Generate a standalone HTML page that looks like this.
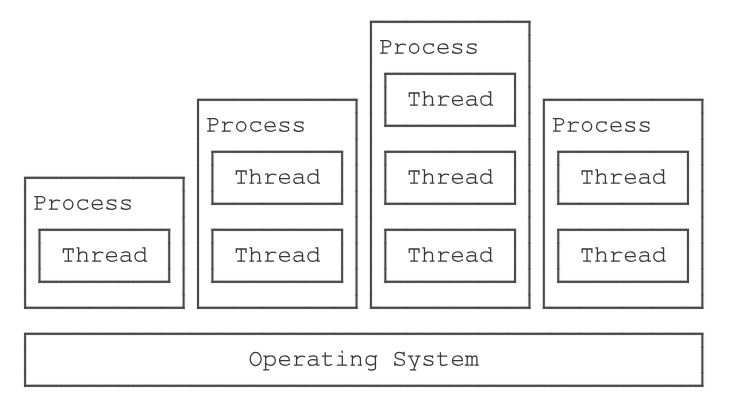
<!DOCTYPE html>
<html><head><meta charset="utf-8"><style>
html,body{margin:0;padding:0;background:#fff;width:736px;height:420px;overflow:hidden}
svg{display:block}
</style></head><body>
<svg width="736" height="420" viewBox="0 0 736 420">
<defs>
<path id="g79" d="M-5.5,-6.1A5.5,6.6 0 1 0 5.5,-6.1A5.5,6.6 0 1 0 -5.5,-6.1Z"/>
<path id="g80" d="M-4.6,-12.5H1.4A4.0,3.1 0 0 1 1.4,-6.3H-2.5M-2.5,-12.5V0M-4.6,0H1.7"/>
<path id="g83" d="M4.3,-12.6V-9.6M4.3,-10.8C3.2,-12.2 1.8,-12.8 -0.2,-12.8C-3,-12.8 -4.6,-11.5 -4.6,-9.3C-4.6,-7.2 -3.1,-6.5 -0.2,-6C3,-5.5 4.7,-4.7 4.7,-2.6C4.7,-0.6 3,0.3 0,0.3C-2.2,0.3 -3.9,-0.5 -4.9,-1.6M-4.9,0.2V-3.3"/>
<path id="g84" d="M-4.9,-8.8V-12.1H4.8V-8.8M0,-12.1V0M-3.4,0H3.2"/>
<path id="g97" d="M-4 -8.4C-3 -8.98 -1.5 -9.26 0.3 -9.26C2.5 -9.26 3.7 -8.31 3.7 -6.4V0H5.6M3.7 -5.06C2.3 -5.44 1 -5.54 -0.3 -5.54C-3.2 -5.54 -5 -4.39 -5 -2.48C-5 -0.76 -3.7 0.3 -1.6 0.3C0.5 0.3 2.3 -0.48 3.7 -1.72"/>
<path id="g99" d="M4.6,-6.9V-8.9M4.6,-8.1C3.5,-9 2.1,-9.3 0.4,-9.3C-2.8,-9.3 -4.9,-7.3 -4.9,-4.6C-4.9,-1.8 -2.7,0.2 0.5,0.2C2.2,0.2 3.8,-0.3 5.1,-1.3"/>
<path id="g100" d="M2.6 -13.3H4.4V0H6M4.4 -7.16C3.3 -8.59 1.8 -9.26 -0.2 -9.26C-3.3 -9.26 -5.4 -7.26 -5.4 -4.49C-5.4 -1.72 -3.3 0.3 -0.2 0.3C1.8 0.3 3.3 -0.48 4.4 -1.91"/>
<path id="g101" d="M-4.9,-4.5H4.9C4.9,-7.4 2.9,-9.3 0,-9.3C-3,-9.3 -4.9,-7.2 -4.9,-4.5C-4.9,-1.6 -2.8,0.2 0.4,0.2C2.2,0.2 3.8,-0.2 5.1,-1.1"/>
<path id="g103" d="M4.5,-9.2H5.6M4.5,-9.2V2.3C4.5,4.1 3.3,4.9 0.9,4.9C-0.5,4.9 -1.5,4.7 -2.3,4.3M4.5,-7.5C3.4,-8.7 1.9,-9.3 0,-9.3C-3,-9.3 -4.9,-7.4 -4.9,-4.8C-4.9,-2.1 -3,-0.1 0,-0.1C1.9,-0.1 3.4,-0.9 4.5,-2.3"/>
<path id="g104" d="M-5.6 -13.3H-4.1V0M-5.5 0H-2.2M-4.1 -6.49C-3 -8.4 -1.3 -9.17 0.5 -9.17C2.6 -9.17 3.9 -8.02 3.9 -6.11V0M1.8 0H5.2"/>
<path id="g105" d="M-3.3 -9.07H0.2V0M-4.6 0H4.4M0,-13.9V-12.8"/>
<path id="g109" d="M-6.2 -9.07H-4.6V0M-6.4 0H-3M-4.6 -6.88C-4 -8.5 -3 -9.17 -1.8 -9.17C-0.6 -9.17 0.2 -8.4 0.2 -6.68V0M0.2 -6.88C0.8 -8.5 1.8 -9.17 3 -9.17C4.3 -9.17 5.1 -8.4 5.1 -6.68V0M-1.2 0H1.2M3.4 0H6.4"/>
<path id="g110" d="M-5.3 -9.07H-4.1V0M-5.3 0H-2.2M-4.1 -6.49C-3 -8.4 -1.3 -9.17 0.5 -9.17C2.6 -9.17 3.9 -8.02 3.9 -6.11V0M1.8 0H4.8"/>
<path id="g111" d="M-4.6,-4.6A4.6,4.75 0 1 0 4.6,-4.6A4.6,4.75 0 1 0 -4.6,-4.6Z"/>
<path id="g112" d="M-6.1 -9.07H-4.4V4.8M-6.2 4.8H-1.3M-4.4 -7.16C-3.3 -8.59 -1.8 -9.26 0.2 -9.26C3.2 -9.26 5.2 -7.26 5.2 -4.49C5.2 -1.72 3.2 0.3 0.2 0.3C-1.8 0.3 -3.3 -0.48 -4.4 -1.91"/>
<path id="g114" d="M-4.4 -8.88H-2.3V0M-4.4 0H3.3M-2.3 -5.54C-1.2 -8.02 0.9 -9.07 3 -9.07C4.2 -9.07 5.1 -8.79 5.6 -8.31"/>
<path id="g115" d="M4,-9V-7.6M4,-8.4C3,-9.1 1.7,-9.3 0,-9.3C-2.6,-9.3 -4,-8.5 -4,-7C-4,-5.5 -2.6,-5 0,-4.6C2.8,-4.2 4.3,-3.6 4.3,-2.1C4.3,-0.6 2.8,0.2 0,0.2C-1.9,0.2 -3.4,-0.2 -4.5,-1M-4.5,-0.4V-2"/>
<path id="g116" d="M-2.5 -12.3V-1.72C-2.5 -0.29 -1.5 0.3 0.5 0.3C1.8 0.3 3 0 4 -0.57M-5.2 -9.07H3.6"/>
<path id="g121" d="M-5.8 -9.07H-1.6M1.8 -9.07H5.8M-4.2 -9.07L0 0M4.3 -9.07L-0.6 4.8M-3.6 4.8H1.4"/>
</defs>
<g fill="#000" fill-opacity="0.06">
<rect x="23.10" y="175.80" width="9.41" height="4"/>
<rect x="32.11" y="175.80" width="14.81" height="4"/>
<rect x="46.52" y="175.80" width="14.81" height="4"/>
<rect x="60.93" y="175.80" width="14.81" height="4"/>
<rect x="75.33" y="175.80" width="14.81" height="4"/>
<rect x="89.74" y="175.80" width="14.81" height="4"/>
<rect x="104.16" y="175.80" width="14.81" height="4"/>
<rect x="118.57" y="175.80" width="14.81" height="4"/>
<rect x="132.98" y="175.80" width="14.81" height="4"/>
<rect x="147.39" y="175.80" width="14.81" height="4"/>
<rect x="161.80" y="175.80" width="14.81" height="4"/>
<rect x="176.21" y="175.80" width="9.40" height="4"/>
<rect x="23.10" y="305.80" width="9.41" height="4"/>
<rect x="32.11" y="305.80" width="14.81" height="4"/>
<rect x="46.52" y="305.80" width="14.81" height="4"/>
<rect x="60.93" y="305.80" width="14.81" height="4"/>
<rect x="75.33" y="305.80" width="14.81" height="4"/>
<rect x="89.74" y="305.80" width="14.81" height="4"/>
<rect x="104.16" y="305.80" width="14.81" height="4"/>
<rect x="118.57" y="305.80" width="14.81" height="4"/>
<rect x="132.98" y="305.80" width="14.81" height="4"/>
<rect x="147.39" y="305.80" width="14.81" height="4"/>
<rect x="161.80" y="305.80" width="14.81" height="4"/>
<rect x="176.21" y="305.80" width="9.40" height="4"/>
<rect x="23.1" y="180.00" width="4" height="11.50"/>
<rect x="23.1" y="190.50" width="4" height="27.00"/>
<rect x="23.1" y="216.50" width="4" height="27.00"/>
<rect x="23.1" y="242.50" width="4" height="27.00"/>
<rect x="23.1" y="268.50" width="4" height="27.00"/>
<rect x="23.1" y="294.50" width="4" height="11.50"/>
<rect x="181.60999999999999" y="180.00" width="4" height="11.50"/>
<rect x="181.60999999999999" y="190.50" width="4" height="27.00"/>
<rect x="181.60999999999999" y="216.50" width="4" height="27.00"/>
<rect x="181.60999999999999" y="242.50" width="4" height="27.00"/>
<rect x="181.60999999999999" y="268.50" width="4" height="27.00"/>
<rect x="181.60999999999999" y="294.50" width="4" height="11.50"/>
<rect x="37.51" y="227.80" width="9.41" height="4"/>
<rect x="46.52" y="227.80" width="14.81" height="4"/>
<rect x="60.93" y="227.80" width="14.81" height="4"/>
<rect x="75.33" y="227.80" width="14.81" height="4"/>
<rect x="89.74" y="227.80" width="14.81" height="4"/>
<rect x="104.16" y="227.80" width="14.81" height="4"/>
<rect x="118.57" y="227.80" width="14.81" height="4"/>
<rect x="132.98" y="227.80" width="14.81" height="4"/>
<rect x="147.39" y="227.80" width="14.81" height="4"/>
<rect x="161.80" y="227.80" width="9.40" height="4"/>
<rect x="37.51" y="279.80" width="9.41" height="4"/>
<rect x="46.52" y="279.80" width="14.81" height="4"/>
<rect x="60.93" y="279.80" width="14.81" height="4"/>
<rect x="75.33" y="279.80" width="14.81" height="4"/>
<rect x="89.74" y="279.80" width="14.81" height="4"/>
<rect x="104.16" y="279.80" width="14.81" height="4"/>
<rect x="118.57" y="279.80" width="14.81" height="4"/>
<rect x="132.98" y="279.80" width="14.81" height="4"/>
<rect x="147.39" y="279.80" width="14.81" height="4"/>
<rect x="161.80" y="279.80" width="9.40" height="4"/>
<rect x="37.510000000000005" y="232.00" width="4" height="11.50"/>
<rect x="37.510000000000005" y="242.50" width="4" height="27.00"/>
<rect x="37.510000000000005" y="268.50" width="4" height="11.50"/>
<rect x="167.2" y="232.00" width="4" height="11.50"/>
<rect x="167.2" y="242.50" width="4" height="27.00"/>
<rect x="167.2" y="268.50" width="4" height="11.50"/>
<rect x="196.02" y="97.80" width="9.41" height="4"/>
<rect x="205.03" y="97.80" width="14.81" height="4"/>
<rect x="219.44" y="97.80" width="14.81" height="4"/>
<rect x="233.85" y="97.80" width="14.81" height="4"/>
<rect x="248.26" y="97.80" width="14.81" height="4"/>
<rect x="262.67" y="97.80" width="14.81" height="4"/>
<rect x="277.07" y="97.80" width="14.81" height="4"/>
<rect x="291.49" y="97.80" width="14.81" height="4"/>
<rect x="305.89" y="97.80" width="14.81" height="4"/>
<rect x="320.31" y="97.80" width="14.81" height="4"/>
<rect x="334.71" y="97.80" width="14.81" height="4"/>
<rect x="349.12" y="97.80" width="9.41" height="4"/>
<rect x="196.02" y="305.80" width="9.41" height="4"/>
<rect x="205.03" y="305.80" width="14.81" height="4"/>
<rect x="219.44" y="305.80" width="14.81" height="4"/>
<rect x="233.85" y="305.80" width="14.81" height="4"/>
<rect x="248.26" y="305.80" width="14.81" height="4"/>
<rect x="262.67" y="305.80" width="14.81" height="4"/>
<rect x="277.07" y="305.80" width="14.81" height="4"/>
<rect x="291.49" y="305.80" width="14.81" height="4"/>
<rect x="305.89" y="305.80" width="14.81" height="4"/>
<rect x="320.31" y="305.80" width="14.81" height="4"/>
<rect x="334.71" y="305.80" width="14.81" height="4"/>
<rect x="349.12" y="305.80" width="9.41" height="4"/>
<rect x="196.02" y="102.00" width="4" height="11.50"/>
<rect x="196.02" y="112.50" width="4" height="27.00"/>
<rect x="196.02" y="138.50" width="4" height="27.00"/>
<rect x="196.02" y="164.50" width="4" height="27.00"/>
<rect x="196.02" y="190.50" width="4" height="27.00"/>
<rect x="196.02" y="216.50" width="4" height="27.00"/>
<rect x="196.02" y="242.50" width="4" height="27.00"/>
<rect x="196.02" y="268.50" width="4" height="27.00"/>
<rect x="196.02" y="294.50" width="4" height="11.50"/>
<rect x="354.53000000000003" y="102.00" width="4" height="11.50"/>
<rect x="354.53000000000003" y="112.50" width="4" height="27.00"/>
<rect x="354.53000000000003" y="138.50" width="4" height="27.00"/>
<rect x="354.53000000000003" y="164.50" width="4" height="27.00"/>
<rect x="354.53000000000003" y="190.50" width="4" height="27.00"/>
<rect x="354.53000000000003" y="216.50" width="4" height="27.00"/>
<rect x="354.53000000000003" y="242.50" width="4" height="27.00"/>
<rect x="354.53000000000003" y="268.50" width="4" height="27.00"/>
<rect x="354.53000000000003" y="294.50" width="4" height="11.50"/>
<rect x="210.43" y="149.80" width="9.41" height="4"/>
<rect x="219.44" y="149.80" width="14.81" height="4"/>
<rect x="233.85" y="149.80" width="14.81" height="4"/>
<rect x="248.26" y="149.80" width="14.81" height="4"/>
<rect x="262.67" y="149.80" width="14.81" height="4"/>
<rect x="277.07" y="149.80" width="14.81" height="4"/>
<rect x="291.49" y="149.80" width="14.81" height="4"/>
<rect x="305.89" y="149.80" width="14.81" height="4"/>
<rect x="320.31" y="149.80" width="14.81" height="4"/>
<rect x="334.71" y="149.80" width="9.41" height="4"/>
<rect x="210.43" y="201.80" width="9.41" height="4"/>
<rect x="219.44" y="201.80" width="14.81" height="4"/>
<rect x="233.85" y="201.80" width="14.81" height="4"/>
<rect x="248.26" y="201.80" width="14.81" height="4"/>
<rect x="262.67" y="201.80" width="14.81" height="4"/>
<rect x="277.07" y="201.80" width="14.81" height="4"/>
<rect x="291.49" y="201.80" width="14.81" height="4"/>
<rect x="305.89" y="201.80" width="14.81" height="4"/>
<rect x="320.31" y="201.80" width="14.81" height="4"/>
<rect x="334.71" y="201.80" width="9.41" height="4"/>
<rect x="210.43" y="154.00" width="4" height="11.50"/>
<rect x="210.43" y="164.50" width="4" height="27.00"/>
<rect x="210.43" y="190.50" width="4" height="11.50"/>
<rect x="340.12" y="154.00" width="4" height="11.50"/>
<rect x="340.12" y="164.50" width="4" height="27.00"/>
<rect x="340.12" y="190.50" width="4" height="11.50"/>
<rect x="210.43" y="227.80" width="9.41" height="4"/>
<rect x="219.44" y="227.80" width="14.81" height="4"/>
<rect x="233.85" y="227.80" width="14.81" height="4"/>
<rect x="248.26" y="227.80" width="14.81" height="4"/>
<rect x="262.67" y="227.80" width="14.81" height="4"/>
<rect x="277.07" y="227.80" width="14.81" height="4"/>
<rect x="291.49" y="227.80" width="14.81" height="4"/>
<rect x="305.89" y="227.80" width="14.81" height="4"/>
<rect x="320.31" y="227.80" width="14.81" height="4"/>
<rect x="334.71" y="227.80" width="9.41" height="4"/>
<rect x="210.43" y="279.80" width="9.41" height="4"/>
<rect x="219.44" y="279.80" width="14.81" height="4"/>
<rect x="233.85" y="279.80" width="14.81" height="4"/>
<rect x="248.26" y="279.80" width="14.81" height="4"/>
<rect x="262.67" y="279.80" width="14.81" height="4"/>
<rect x="277.07" y="279.80" width="14.81" height="4"/>
<rect x="291.49" y="279.80" width="14.81" height="4"/>
<rect x="305.89" y="279.80" width="14.81" height="4"/>
<rect x="320.31" y="279.80" width="14.81" height="4"/>
<rect x="334.71" y="279.80" width="9.41" height="4"/>
<rect x="210.43" y="232.00" width="4" height="11.50"/>
<rect x="210.43" y="242.50" width="4" height="27.00"/>
<rect x="210.43" y="268.50" width="4" height="11.50"/>
<rect x="340.12" y="232.00" width="4" height="11.50"/>
<rect x="340.12" y="242.50" width="4" height="27.00"/>
<rect x="340.12" y="268.50" width="4" height="11.50"/>
<rect x="368.94" y="19.80" width="9.40" height="4"/>
<rect x="377.94" y="19.80" width="14.81" height="4"/>
<rect x="392.36" y="19.80" width="14.81" height="4"/>
<rect x="406.76" y="19.80" width="14.81" height="4"/>
<rect x="421.18" y="19.80" width="14.81" height="4"/>
<rect x="435.58" y="19.80" width="14.81" height="4"/>
<rect x="450.00" y="19.80" width="14.81" height="4"/>
<rect x="464.40" y="19.80" width="14.81" height="4"/>
<rect x="478.81" y="19.80" width="14.81" height="4"/>
<rect x="493.23" y="19.80" width="14.81" height="4"/>
<rect x="507.63" y="19.80" width="14.81" height="4"/>
<rect x="522.04" y="19.80" width="9.41" height="4"/>
<rect x="368.94" y="305.80" width="9.40" height="4"/>
<rect x="377.94" y="305.80" width="14.81" height="4"/>
<rect x="392.36" y="305.80" width="14.81" height="4"/>
<rect x="406.76" y="305.80" width="14.81" height="4"/>
<rect x="421.18" y="305.80" width="14.81" height="4"/>
<rect x="435.58" y="305.80" width="14.81" height="4"/>
<rect x="450.00" y="305.80" width="14.81" height="4"/>
<rect x="464.40" y="305.80" width="14.81" height="4"/>
<rect x="478.81" y="305.80" width="14.81" height="4"/>
<rect x="493.23" y="305.80" width="14.81" height="4"/>
<rect x="507.63" y="305.80" width="14.81" height="4"/>
<rect x="522.04" y="305.80" width="9.41" height="4"/>
<rect x="368.94000000000005" y="24.00" width="4" height="11.50"/>
<rect x="368.94000000000005" y="34.50" width="4" height="27.00"/>
<rect x="368.94000000000005" y="60.50" width="4" height="27.00"/>
<rect x="368.94000000000005" y="86.50" width="4" height="27.00"/>
<rect x="368.94000000000005" y="112.50" width="4" height="27.00"/>
<rect x="368.94000000000005" y="138.50" width="4" height="27.00"/>
<rect x="368.94000000000005" y="164.50" width="4" height="27.00"/>
<rect x="368.94000000000005" y="190.50" width="4" height="27.00"/>
<rect x="368.94000000000005" y="216.50" width="4" height="27.00"/>
<rect x="368.94000000000005" y="242.50" width="4" height="27.00"/>
<rect x="368.94000000000005" y="268.50" width="4" height="27.00"/>
<rect x="368.94000000000005" y="294.50" width="4" height="11.50"/>
<rect x="527.45" y="24.00" width="4" height="11.50"/>
<rect x="527.45" y="34.50" width="4" height="27.00"/>
<rect x="527.45" y="60.50" width="4" height="27.00"/>
<rect x="527.45" y="86.50" width="4" height="27.00"/>
<rect x="527.45" y="112.50" width="4" height="27.00"/>
<rect x="527.45" y="138.50" width="4" height="27.00"/>
<rect x="527.45" y="164.50" width="4" height="27.00"/>
<rect x="527.45" y="190.50" width="4" height="27.00"/>
<rect x="527.45" y="216.50" width="4" height="27.00"/>
<rect x="527.45" y="242.50" width="4" height="27.00"/>
<rect x="527.45" y="268.50" width="4" height="27.00"/>
<rect x="527.45" y="294.50" width="4" height="11.50"/>
<rect x="383.35" y="71.80" width="9.40" height="4"/>
<rect x="392.36" y="71.80" width="14.81" height="4"/>
<rect x="406.76" y="71.80" width="14.81" height="4"/>
<rect x="421.18" y="71.80" width="14.81" height="4"/>
<rect x="435.58" y="71.80" width="14.81" height="4"/>
<rect x="450.00" y="71.80" width="14.81" height="4"/>
<rect x="464.40" y="71.80" width="14.81" height="4"/>
<rect x="478.81" y="71.80" width="14.81" height="4"/>
<rect x="493.23" y="71.80" width="14.81" height="4"/>
<rect x="507.63" y="71.80" width="9.40" height="4"/>
<rect x="383.35" y="123.80" width="9.40" height="4"/>
<rect x="392.36" y="123.80" width="14.81" height="4"/>
<rect x="406.76" y="123.80" width="14.81" height="4"/>
<rect x="421.18" y="123.80" width="14.81" height="4"/>
<rect x="435.58" y="123.80" width="14.81" height="4"/>
<rect x="450.00" y="123.80" width="14.81" height="4"/>
<rect x="464.40" y="123.80" width="14.81" height="4"/>
<rect x="478.81" y="123.80" width="14.81" height="4"/>
<rect x="493.23" y="123.80" width="14.81" height="4"/>
<rect x="507.63" y="123.80" width="9.40" height="4"/>
<rect x="383.35" y="76.00" width="4" height="11.50"/>
<rect x="383.35" y="86.50" width="4" height="27.00"/>
<rect x="383.35" y="112.50" width="4" height="11.50"/>
<rect x="513.04" y="76.00" width="4" height="11.50"/>
<rect x="513.04" y="86.50" width="4" height="27.00"/>
<rect x="513.04" y="112.50" width="4" height="11.50"/>
<rect x="383.35" y="149.80" width="9.40" height="4"/>
<rect x="392.36" y="149.80" width="14.81" height="4"/>
<rect x="406.76" y="149.80" width="14.81" height="4"/>
<rect x="421.18" y="149.80" width="14.81" height="4"/>
<rect x="435.58" y="149.80" width="14.81" height="4"/>
<rect x="450.00" y="149.80" width="14.81" height="4"/>
<rect x="464.40" y="149.80" width="14.81" height="4"/>
<rect x="478.81" y="149.80" width="14.81" height="4"/>
<rect x="493.23" y="149.80" width="14.81" height="4"/>
<rect x="507.63" y="149.80" width="9.40" height="4"/>
<rect x="383.35" y="201.80" width="9.40" height="4"/>
<rect x="392.36" y="201.80" width="14.81" height="4"/>
<rect x="406.76" y="201.80" width="14.81" height="4"/>
<rect x="421.18" y="201.80" width="14.81" height="4"/>
<rect x="435.58" y="201.80" width="14.81" height="4"/>
<rect x="450.00" y="201.80" width="14.81" height="4"/>
<rect x="464.40" y="201.80" width="14.81" height="4"/>
<rect x="478.81" y="201.80" width="14.81" height="4"/>
<rect x="493.23" y="201.80" width="14.81" height="4"/>
<rect x="507.63" y="201.80" width="9.40" height="4"/>
<rect x="383.35" y="154.00" width="4" height="11.50"/>
<rect x="383.35" y="164.50" width="4" height="27.00"/>
<rect x="383.35" y="190.50" width="4" height="11.50"/>
<rect x="513.04" y="154.00" width="4" height="11.50"/>
<rect x="513.04" y="164.50" width="4" height="27.00"/>
<rect x="513.04" y="190.50" width="4" height="11.50"/>
<rect x="383.35" y="227.80" width="9.40" height="4"/>
<rect x="392.36" y="227.80" width="14.81" height="4"/>
<rect x="406.76" y="227.80" width="14.81" height="4"/>
<rect x="421.18" y="227.80" width="14.81" height="4"/>
<rect x="435.58" y="227.80" width="14.81" height="4"/>
<rect x="450.00" y="227.80" width="14.81" height="4"/>
<rect x="464.40" y="227.80" width="14.81" height="4"/>
<rect x="478.81" y="227.80" width="14.81" height="4"/>
<rect x="493.23" y="227.80" width="14.81" height="4"/>
<rect x="507.63" y="227.80" width="9.40" height="4"/>
<rect x="383.35" y="279.80" width="9.40" height="4"/>
<rect x="392.36" y="279.80" width="14.81" height="4"/>
<rect x="406.76" y="279.80" width="14.81" height="4"/>
<rect x="421.18" y="279.80" width="14.81" height="4"/>
<rect x="435.58" y="279.80" width="14.81" height="4"/>
<rect x="450.00" y="279.80" width="14.81" height="4"/>
<rect x="464.40" y="279.80" width="14.81" height="4"/>
<rect x="478.81" y="279.80" width="14.81" height="4"/>
<rect x="493.23" y="279.80" width="14.81" height="4"/>
<rect x="507.63" y="279.80" width="9.40" height="4"/>
<rect x="383.35" y="232.00" width="4" height="11.50"/>
<rect x="383.35" y="242.50" width="4" height="27.00"/>
<rect x="383.35" y="268.50" width="4" height="11.50"/>
<rect x="513.04" y="232.00" width="4" height="11.50"/>
<rect x="513.04" y="242.50" width="4" height="27.00"/>
<rect x="513.04" y="268.50" width="4" height="11.50"/>
<rect x="541.86" y="97.80" width="9.40" height="4"/>
<rect x="550.86" y="97.80" width="14.81" height="4"/>
<rect x="565.27" y="97.80" width="14.81" height="4"/>
<rect x="579.68" y="97.80" width="14.81" height="4"/>
<rect x="594.09" y="97.80" width="14.81" height="4"/>
<rect x="608.50" y="97.80" width="14.81" height="4"/>
<rect x="622.91" y="97.80" width="14.81" height="4"/>
<rect x="637.32" y="97.80" width="14.81" height="4"/>
<rect x="651.73" y="97.80" width="14.81" height="4"/>
<rect x="666.14" y="97.80" width="14.81" height="4"/>
<rect x="680.55" y="97.80" width="14.81" height="4"/>
<rect x="694.96" y="97.80" width="9.41" height="4"/>
<rect x="541.86" y="305.80" width="9.40" height="4"/>
<rect x="550.86" y="305.80" width="14.81" height="4"/>
<rect x="565.27" y="305.80" width="14.81" height="4"/>
<rect x="579.68" y="305.80" width="14.81" height="4"/>
<rect x="594.09" y="305.80" width="14.81" height="4"/>
<rect x="608.50" y="305.80" width="14.81" height="4"/>
<rect x="622.91" y="305.80" width="14.81" height="4"/>
<rect x="637.32" y="305.80" width="14.81" height="4"/>
<rect x="651.73" y="305.80" width="14.81" height="4"/>
<rect x="666.14" y="305.80" width="14.81" height="4"/>
<rect x="680.55" y="305.80" width="14.81" height="4"/>
<rect x="694.96" y="305.80" width="9.41" height="4"/>
<rect x="541.86" y="102.00" width="4" height="11.50"/>
<rect x="541.86" y="112.50" width="4" height="27.00"/>
<rect x="541.86" y="138.50" width="4" height="27.00"/>
<rect x="541.86" y="164.50" width="4" height="27.00"/>
<rect x="541.86" y="190.50" width="4" height="27.00"/>
<rect x="541.86" y="216.50" width="4" height="27.00"/>
<rect x="541.86" y="242.50" width="4" height="27.00"/>
<rect x="541.86" y="268.50" width="4" height="27.00"/>
<rect x="541.86" y="294.50" width="4" height="11.50"/>
<rect x="700.37" y="102.00" width="4" height="11.50"/>
<rect x="700.37" y="112.50" width="4" height="27.00"/>
<rect x="700.37" y="138.50" width="4" height="27.00"/>
<rect x="700.37" y="164.50" width="4" height="27.00"/>
<rect x="700.37" y="190.50" width="4" height="27.00"/>
<rect x="700.37" y="216.50" width="4" height="27.00"/>
<rect x="700.37" y="242.50" width="4" height="27.00"/>
<rect x="700.37" y="268.50" width="4" height="27.00"/>
<rect x="700.37" y="294.50" width="4" height="11.50"/>
<rect x="556.27" y="149.80" width="9.41" height="4"/>
<rect x="565.27" y="149.80" width="14.81" height="4"/>
<rect x="579.68" y="149.80" width="14.81" height="4"/>
<rect x="594.09" y="149.80" width="14.81" height="4"/>
<rect x="608.50" y="149.80" width="14.81" height="4"/>
<rect x="622.91" y="149.80" width="14.81" height="4"/>
<rect x="637.32" y="149.80" width="14.81" height="4"/>
<rect x="651.73" y="149.80" width="14.81" height="4"/>
<rect x="666.14" y="149.80" width="14.81" height="4"/>
<rect x="680.55" y="149.80" width="9.41" height="4"/>
<rect x="556.27" y="201.80" width="9.41" height="4"/>
<rect x="565.27" y="201.80" width="14.81" height="4"/>
<rect x="579.68" y="201.80" width="14.81" height="4"/>
<rect x="594.09" y="201.80" width="14.81" height="4"/>
<rect x="608.50" y="201.80" width="14.81" height="4"/>
<rect x="622.91" y="201.80" width="14.81" height="4"/>
<rect x="637.32" y="201.80" width="14.81" height="4"/>
<rect x="651.73" y="201.80" width="14.81" height="4"/>
<rect x="666.14" y="201.80" width="14.81" height="4"/>
<rect x="680.55" y="201.80" width="9.41" height="4"/>
<rect x="556.27" y="154.00" width="4" height="11.50"/>
<rect x="556.27" y="164.50" width="4" height="27.00"/>
<rect x="556.27" y="190.50" width="4" height="11.50"/>
<rect x="685.96" y="154.00" width="4" height="11.50"/>
<rect x="685.96" y="164.50" width="4" height="27.00"/>
<rect x="685.96" y="190.50" width="4" height="11.50"/>
<rect x="556.27" y="227.80" width="9.41" height="4"/>
<rect x="565.27" y="227.80" width="14.81" height="4"/>
<rect x="579.68" y="227.80" width="14.81" height="4"/>
<rect x="594.09" y="227.80" width="14.81" height="4"/>
<rect x="608.50" y="227.80" width="14.81" height="4"/>
<rect x="622.91" y="227.80" width="14.81" height="4"/>
<rect x="637.32" y="227.80" width="14.81" height="4"/>
<rect x="651.73" y="227.80" width="14.81" height="4"/>
<rect x="666.14" y="227.80" width="14.81" height="4"/>
<rect x="680.55" y="227.80" width="9.41" height="4"/>
<rect x="556.27" y="279.80" width="9.41" height="4"/>
<rect x="565.27" y="279.80" width="14.81" height="4"/>
<rect x="579.68" y="279.80" width="14.81" height="4"/>
<rect x="594.09" y="279.80" width="14.81" height="4"/>
<rect x="608.50" y="279.80" width="14.81" height="4"/>
<rect x="622.91" y="279.80" width="14.81" height="4"/>
<rect x="637.32" y="279.80" width="14.81" height="4"/>
<rect x="651.73" y="279.80" width="14.81" height="4"/>
<rect x="666.14" y="279.80" width="14.81" height="4"/>
<rect x="680.55" y="279.80" width="9.41" height="4"/>
<rect x="556.27" y="232.00" width="4" height="11.50"/>
<rect x="556.27" y="242.50" width="4" height="27.00"/>
<rect x="556.27" y="268.50" width="4" height="11.50"/>
<rect x="685.96" y="232.00" width="4" height="11.50"/>
<rect x="685.96" y="242.50" width="4" height="27.00"/>
<rect x="685.96" y="268.50" width="4" height="11.50"/>
<rect x="23.10" y="331.80" width="9.41" height="4"/>
<rect x="32.11" y="331.80" width="14.81" height="4"/>
<rect x="46.52" y="331.80" width="14.81" height="4"/>
<rect x="60.93" y="331.80" width="14.81" height="4"/>
<rect x="75.33" y="331.80" width="14.81" height="4"/>
<rect x="89.74" y="331.80" width="14.81" height="4"/>
<rect x="104.16" y="331.80" width="14.81" height="4"/>
<rect x="118.57" y="331.80" width="14.81" height="4"/>
<rect x="132.98" y="331.80" width="14.81" height="4"/>
<rect x="147.39" y="331.80" width="14.81" height="4"/>
<rect x="161.80" y="331.80" width="14.81" height="4"/>
<rect x="176.21" y="331.80" width="14.81" height="4"/>
<rect x="190.62" y="331.80" width="14.81" height="4"/>
<rect x="205.03" y="331.80" width="14.81" height="4"/>
<rect x="219.44" y="331.80" width="14.81" height="4"/>
<rect x="233.85" y="331.80" width="14.81" height="4"/>
<rect x="248.26" y="331.80" width="14.81" height="4"/>
<rect x="262.67" y="331.80" width="14.81" height="4"/>
<rect x="277.07" y="331.80" width="14.81" height="4"/>
<rect x="291.49" y="331.80" width="14.81" height="4"/>
<rect x="305.89" y="331.80" width="14.81" height="4"/>
<rect x="320.31" y="331.80" width="14.81" height="4"/>
<rect x="334.71" y="331.80" width="14.81" height="4"/>
<rect x="349.12" y="331.80" width="14.81" height="4"/>
<rect x="363.54" y="331.80" width="14.81" height="4"/>
<rect x="377.94" y="331.80" width="14.81" height="4"/>
<rect x="392.36" y="331.80" width="14.81" height="4"/>
<rect x="406.76" y="331.80" width="14.81" height="4"/>
<rect x="421.18" y="331.80" width="14.81" height="4"/>
<rect x="435.58" y="331.80" width="14.81" height="4"/>
<rect x="450.00" y="331.80" width="14.81" height="4"/>
<rect x="464.40" y="331.80" width="14.81" height="4"/>
<rect x="478.81" y="331.80" width="14.81" height="4"/>
<rect x="493.23" y="331.80" width="14.81" height="4"/>
<rect x="507.63" y="331.80" width="14.81" height="4"/>
<rect x="522.04" y="331.80" width="14.81" height="4"/>
<rect x="536.45" y="331.80" width="14.81" height="4"/>
<rect x="550.86" y="331.80" width="14.81" height="4"/>
<rect x="565.27" y="331.80" width="14.81" height="4"/>
<rect x="579.68" y="331.80" width="14.81" height="4"/>
<rect x="594.09" y="331.80" width="14.81" height="4"/>
<rect x="608.50" y="331.80" width="14.81" height="4"/>
<rect x="622.91" y="331.80" width="14.81" height="4"/>
<rect x="637.32" y="331.80" width="14.81" height="4"/>
<rect x="651.73" y="331.80" width="14.81" height="4"/>
<rect x="666.14" y="331.80" width="14.81" height="4"/>
<rect x="680.55" y="331.80" width="14.81" height="4"/>
<rect x="694.96" y="331.80" width="9.41" height="4"/>
<rect x="23.10" y="383.80" width="9.41" height="4"/>
<rect x="32.11" y="383.80" width="14.81" height="4"/>
<rect x="46.52" y="383.80" width="14.81" height="4"/>
<rect x="60.93" y="383.80" width="14.81" height="4"/>
<rect x="75.33" y="383.80" width="14.81" height="4"/>
<rect x="89.74" y="383.80" width="14.81" height="4"/>
<rect x="104.16" y="383.80" width="14.81" height="4"/>
<rect x="118.57" y="383.80" width="14.81" height="4"/>
<rect x="132.98" y="383.80" width="14.81" height="4"/>
<rect x="147.39" y="383.80" width="14.81" height="4"/>
<rect x="161.80" y="383.80" width="14.81" height="4"/>
<rect x="176.21" y="383.80" width="14.81" height="4"/>
<rect x="190.62" y="383.80" width="14.81" height="4"/>
<rect x="205.03" y="383.80" width="14.81" height="4"/>
<rect x="219.44" y="383.80" width="14.81" height="4"/>
<rect x="233.85" y="383.80" width="14.81" height="4"/>
<rect x="248.26" y="383.80" width="14.81" height="4"/>
<rect x="262.67" y="383.80" width="14.81" height="4"/>
<rect x="277.07" y="383.80" width="14.81" height="4"/>
<rect x="291.49" y="383.80" width="14.81" height="4"/>
<rect x="305.89" y="383.80" width="14.81" height="4"/>
<rect x="320.31" y="383.80" width="14.81" height="4"/>
<rect x="334.71" y="383.80" width="14.81" height="4"/>
<rect x="349.12" y="383.80" width="14.81" height="4"/>
<rect x="363.54" y="383.80" width="14.81" height="4"/>
<rect x="377.94" y="383.80" width="14.81" height="4"/>
<rect x="392.36" y="383.80" width="14.81" height="4"/>
<rect x="406.76" y="383.80" width="14.81" height="4"/>
<rect x="421.18" y="383.80" width="14.81" height="4"/>
<rect x="435.58" y="383.80" width="14.81" height="4"/>
<rect x="450.00" y="383.80" width="14.81" height="4"/>
<rect x="464.40" y="383.80" width="14.81" height="4"/>
<rect x="478.81" y="383.80" width="14.81" height="4"/>
<rect x="493.23" y="383.80" width="14.81" height="4"/>
<rect x="507.63" y="383.80" width="14.81" height="4"/>
<rect x="522.04" y="383.80" width="14.81" height="4"/>
<rect x="536.45" y="383.80" width="14.81" height="4"/>
<rect x="550.86" y="383.80" width="14.81" height="4"/>
<rect x="565.27" y="383.80" width="14.81" height="4"/>
<rect x="579.68" y="383.80" width="14.81" height="4"/>
<rect x="594.09" y="383.80" width="14.81" height="4"/>
<rect x="608.50" y="383.80" width="14.81" height="4"/>
<rect x="622.91" y="383.80" width="14.81" height="4"/>
<rect x="637.32" y="383.80" width="14.81" height="4"/>
<rect x="651.73" y="383.80" width="14.81" height="4"/>
<rect x="666.14" y="383.80" width="14.81" height="4"/>
<rect x="680.55" y="383.80" width="14.81" height="4"/>
<rect x="694.96" y="383.80" width="9.41" height="4"/>
<rect x="23.1" y="336.00" width="4" height="11.50"/>
<rect x="23.1" y="346.50" width="4" height="27.00"/>
<rect x="23.1" y="372.50" width="4" height="11.50"/>
<rect x="700.37" y="336.00" width="4" height="11.50"/>
<rect x="700.37" y="346.50" width="4" height="27.00"/>
<rect x="700.37" y="372.50" width="4" height="11.50"/>
</g>
<g fill="#484848">
<rect x="24.10" y="176.70" width="8.41" height="2.2"/>
<rect x="32.11" y="176.70" width="14.81" height="2.2"/>
<rect x="46.52" y="176.70" width="14.81" height="2.2"/>
<rect x="60.93" y="176.70" width="14.81" height="2.2"/>
<rect x="75.33" y="176.70" width="14.81" height="2.2"/>
<rect x="89.74" y="176.70" width="14.81" height="2.2"/>
<rect x="104.16" y="176.70" width="14.81" height="2.2"/>
<rect x="118.57" y="176.70" width="14.81" height="2.2"/>
<rect x="132.98" y="176.70" width="14.81" height="2.2"/>
<rect x="147.39" y="176.70" width="14.81" height="2.2"/>
<rect x="161.80" y="176.70" width="14.81" height="2.2"/>
<rect x="176.21" y="176.70" width="8.40" height="2.2"/>
<rect x="24.10" y="306.70" width="8.41" height="2.2"/>
<rect x="32.11" y="306.70" width="14.81" height="2.2"/>
<rect x="46.52" y="306.70" width="14.81" height="2.2"/>
<rect x="60.93" y="306.70" width="14.81" height="2.2"/>
<rect x="75.33" y="306.70" width="14.81" height="2.2"/>
<rect x="89.74" y="306.70" width="14.81" height="2.2"/>
<rect x="104.16" y="306.70" width="14.81" height="2.2"/>
<rect x="118.57" y="306.70" width="14.81" height="2.2"/>
<rect x="132.98" y="306.70" width="14.81" height="2.2"/>
<rect x="147.39" y="306.70" width="14.81" height="2.2"/>
<rect x="161.80" y="306.70" width="14.81" height="2.2"/>
<rect x="176.21" y="306.70" width="8.40" height="2.2"/>
<rect x="24.1" y="177.00" width="2" height="14.50"/>
<rect x="24.1" y="190.50" width="2" height="27.00"/>
<rect x="24.1" y="216.50" width="2" height="27.00"/>
<rect x="24.1" y="242.50" width="2" height="27.00"/>
<rect x="24.1" y="268.50" width="2" height="27.00"/>
<rect x="24.1" y="294.50" width="2" height="14.50"/>
<rect x="182.60999999999999" y="177.00" width="2" height="14.50"/>
<rect x="182.60999999999999" y="190.50" width="2" height="27.00"/>
<rect x="182.60999999999999" y="216.50" width="2" height="27.00"/>
<rect x="182.60999999999999" y="242.50" width="2" height="27.00"/>
<rect x="182.60999999999999" y="268.50" width="2" height="27.00"/>
<rect x="182.60999999999999" y="294.50" width="2" height="14.50"/>
<rect x="38.51" y="228.70" width="8.41" height="2.2"/>
<rect x="46.52" y="228.70" width="14.81" height="2.2"/>
<rect x="60.93" y="228.70" width="14.81" height="2.2"/>
<rect x="75.33" y="228.70" width="14.81" height="2.2"/>
<rect x="89.74" y="228.70" width="14.81" height="2.2"/>
<rect x="104.16" y="228.70" width="14.81" height="2.2"/>
<rect x="118.57" y="228.70" width="14.81" height="2.2"/>
<rect x="132.98" y="228.70" width="14.81" height="2.2"/>
<rect x="147.39" y="228.70" width="14.81" height="2.2"/>
<rect x="161.80" y="228.70" width="8.40" height="2.2"/>
<rect x="38.51" y="280.70" width="8.41" height="2.2"/>
<rect x="46.52" y="280.70" width="14.81" height="2.2"/>
<rect x="60.93" y="280.70" width="14.81" height="2.2"/>
<rect x="75.33" y="280.70" width="14.81" height="2.2"/>
<rect x="89.74" y="280.70" width="14.81" height="2.2"/>
<rect x="104.16" y="280.70" width="14.81" height="2.2"/>
<rect x="118.57" y="280.70" width="14.81" height="2.2"/>
<rect x="132.98" y="280.70" width="14.81" height="2.2"/>
<rect x="147.39" y="280.70" width="14.81" height="2.2"/>
<rect x="161.80" y="280.70" width="8.40" height="2.2"/>
<rect x="38.510000000000005" y="229.00" width="2" height="14.50"/>
<rect x="38.510000000000005" y="242.50" width="2" height="27.00"/>
<rect x="38.510000000000005" y="268.50" width="2" height="14.50"/>
<rect x="168.2" y="229.00" width="2" height="14.50"/>
<rect x="168.2" y="242.50" width="2" height="27.00"/>
<rect x="168.2" y="268.50" width="2" height="14.50"/>
<rect x="197.02" y="98.70" width="8.41" height="2.2"/>
<rect x="205.03" y="98.70" width="14.81" height="2.2"/>
<rect x="219.44" y="98.70" width="14.81" height="2.2"/>
<rect x="233.85" y="98.70" width="14.81" height="2.2"/>
<rect x="248.26" y="98.70" width="14.81" height="2.2"/>
<rect x="262.67" y="98.70" width="14.81" height="2.2"/>
<rect x="277.07" y="98.70" width="14.81" height="2.2"/>
<rect x="291.49" y="98.70" width="14.81" height="2.2"/>
<rect x="305.89" y="98.70" width="14.81" height="2.2"/>
<rect x="320.31" y="98.70" width="14.81" height="2.2"/>
<rect x="334.71" y="98.70" width="14.81" height="2.2"/>
<rect x="349.12" y="98.70" width="8.41" height="2.2"/>
<rect x="197.02" y="306.70" width="8.41" height="2.2"/>
<rect x="205.03" y="306.70" width="14.81" height="2.2"/>
<rect x="219.44" y="306.70" width="14.81" height="2.2"/>
<rect x="233.85" y="306.70" width="14.81" height="2.2"/>
<rect x="248.26" y="306.70" width="14.81" height="2.2"/>
<rect x="262.67" y="306.70" width="14.81" height="2.2"/>
<rect x="277.07" y="306.70" width="14.81" height="2.2"/>
<rect x="291.49" y="306.70" width="14.81" height="2.2"/>
<rect x="305.89" y="306.70" width="14.81" height="2.2"/>
<rect x="320.31" y="306.70" width="14.81" height="2.2"/>
<rect x="334.71" y="306.70" width="14.81" height="2.2"/>
<rect x="349.12" y="306.70" width="8.41" height="2.2"/>
<rect x="197.02" y="99.00" width="2" height="14.50"/>
<rect x="197.02" y="112.50" width="2" height="27.00"/>
<rect x="197.02" y="138.50" width="2" height="27.00"/>
<rect x="197.02" y="164.50" width="2" height="27.00"/>
<rect x="197.02" y="190.50" width="2" height="27.00"/>
<rect x="197.02" y="216.50" width="2" height="27.00"/>
<rect x="197.02" y="242.50" width="2" height="27.00"/>
<rect x="197.02" y="268.50" width="2" height="27.00"/>
<rect x="197.02" y="294.50" width="2" height="14.50"/>
<rect x="355.53000000000003" y="99.00" width="2" height="14.50"/>
<rect x="355.53000000000003" y="112.50" width="2" height="27.00"/>
<rect x="355.53000000000003" y="138.50" width="2" height="27.00"/>
<rect x="355.53000000000003" y="164.50" width="2" height="27.00"/>
<rect x="355.53000000000003" y="190.50" width="2" height="27.00"/>
<rect x="355.53000000000003" y="216.50" width="2" height="27.00"/>
<rect x="355.53000000000003" y="242.50" width="2" height="27.00"/>
<rect x="355.53000000000003" y="268.50" width="2" height="27.00"/>
<rect x="355.53000000000003" y="294.50" width="2" height="14.50"/>
<rect x="211.43" y="150.70" width="8.41" height="2.2"/>
<rect x="219.44" y="150.70" width="14.81" height="2.2"/>
<rect x="233.85" y="150.70" width="14.81" height="2.2"/>
<rect x="248.26" y="150.70" width="14.81" height="2.2"/>
<rect x="262.67" y="150.70" width="14.81" height="2.2"/>
<rect x="277.07" y="150.70" width="14.81" height="2.2"/>
<rect x="291.49" y="150.70" width="14.81" height="2.2"/>
<rect x="305.89" y="150.70" width="14.81" height="2.2"/>
<rect x="320.31" y="150.70" width="14.81" height="2.2"/>
<rect x="334.71" y="150.70" width="8.41" height="2.2"/>
<rect x="211.43" y="202.70" width="8.41" height="2.2"/>
<rect x="219.44" y="202.70" width="14.81" height="2.2"/>
<rect x="233.85" y="202.70" width="14.81" height="2.2"/>
<rect x="248.26" y="202.70" width="14.81" height="2.2"/>
<rect x="262.67" y="202.70" width="14.81" height="2.2"/>
<rect x="277.07" y="202.70" width="14.81" height="2.2"/>
<rect x="291.49" y="202.70" width="14.81" height="2.2"/>
<rect x="305.89" y="202.70" width="14.81" height="2.2"/>
<rect x="320.31" y="202.70" width="14.81" height="2.2"/>
<rect x="334.71" y="202.70" width="8.41" height="2.2"/>
<rect x="211.43" y="151.00" width="2" height="14.50"/>
<rect x="211.43" y="164.50" width="2" height="27.00"/>
<rect x="211.43" y="190.50" width="2" height="14.50"/>
<rect x="341.12" y="151.00" width="2" height="14.50"/>
<rect x="341.12" y="164.50" width="2" height="27.00"/>
<rect x="341.12" y="190.50" width="2" height="14.50"/>
<rect x="211.43" y="228.70" width="8.41" height="2.2"/>
<rect x="219.44" y="228.70" width="14.81" height="2.2"/>
<rect x="233.85" y="228.70" width="14.81" height="2.2"/>
<rect x="248.26" y="228.70" width="14.81" height="2.2"/>
<rect x="262.67" y="228.70" width="14.81" height="2.2"/>
<rect x="277.07" y="228.70" width="14.81" height="2.2"/>
<rect x="291.49" y="228.70" width="14.81" height="2.2"/>
<rect x="305.89" y="228.70" width="14.81" height="2.2"/>
<rect x="320.31" y="228.70" width="14.81" height="2.2"/>
<rect x="334.71" y="228.70" width="8.41" height="2.2"/>
<rect x="211.43" y="280.70" width="8.41" height="2.2"/>
<rect x="219.44" y="280.70" width="14.81" height="2.2"/>
<rect x="233.85" y="280.70" width="14.81" height="2.2"/>
<rect x="248.26" y="280.70" width="14.81" height="2.2"/>
<rect x="262.67" y="280.70" width="14.81" height="2.2"/>
<rect x="277.07" y="280.70" width="14.81" height="2.2"/>
<rect x="291.49" y="280.70" width="14.81" height="2.2"/>
<rect x="305.89" y="280.70" width="14.81" height="2.2"/>
<rect x="320.31" y="280.70" width="14.81" height="2.2"/>
<rect x="334.71" y="280.70" width="8.41" height="2.2"/>
<rect x="211.43" y="229.00" width="2" height="14.50"/>
<rect x="211.43" y="242.50" width="2" height="27.00"/>
<rect x="211.43" y="268.50" width="2" height="14.50"/>
<rect x="341.12" y="229.00" width="2" height="14.50"/>
<rect x="341.12" y="242.50" width="2" height="27.00"/>
<rect x="341.12" y="268.50" width="2" height="14.50"/>
<rect x="369.94" y="20.70" width="8.40" height="2.2"/>
<rect x="377.94" y="20.70" width="14.81" height="2.2"/>
<rect x="392.36" y="20.70" width="14.81" height="2.2"/>
<rect x="406.76" y="20.70" width="14.81" height="2.2"/>
<rect x="421.18" y="20.70" width="14.81" height="2.2"/>
<rect x="435.58" y="20.70" width="14.81" height="2.2"/>
<rect x="450.00" y="20.70" width="14.81" height="2.2"/>
<rect x="464.40" y="20.70" width="14.81" height="2.2"/>
<rect x="478.81" y="20.70" width="14.81" height="2.2"/>
<rect x="493.23" y="20.70" width="14.81" height="2.2"/>
<rect x="507.63" y="20.70" width="14.81" height="2.2"/>
<rect x="522.04" y="20.70" width="8.41" height="2.2"/>
<rect x="369.94" y="306.70" width="8.40" height="2.2"/>
<rect x="377.94" y="306.70" width="14.81" height="2.2"/>
<rect x="392.36" y="306.70" width="14.81" height="2.2"/>
<rect x="406.76" y="306.70" width="14.81" height="2.2"/>
<rect x="421.18" y="306.70" width="14.81" height="2.2"/>
<rect x="435.58" y="306.70" width="14.81" height="2.2"/>
<rect x="450.00" y="306.70" width="14.81" height="2.2"/>
<rect x="464.40" y="306.70" width="14.81" height="2.2"/>
<rect x="478.81" y="306.70" width="14.81" height="2.2"/>
<rect x="493.23" y="306.70" width="14.81" height="2.2"/>
<rect x="507.63" y="306.70" width="14.81" height="2.2"/>
<rect x="522.04" y="306.70" width="8.41" height="2.2"/>
<rect x="369.94000000000005" y="21.00" width="2" height="14.50"/>
<rect x="369.94000000000005" y="34.50" width="2" height="27.00"/>
<rect x="369.94000000000005" y="60.50" width="2" height="27.00"/>
<rect x="369.94000000000005" y="86.50" width="2" height="27.00"/>
<rect x="369.94000000000005" y="112.50" width="2" height="27.00"/>
<rect x="369.94000000000005" y="138.50" width="2" height="27.00"/>
<rect x="369.94000000000005" y="164.50" width="2" height="27.00"/>
<rect x="369.94000000000005" y="190.50" width="2" height="27.00"/>
<rect x="369.94000000000005" y="216.50" width="2" height="27.00"/>
<rect x="369.94000000000005" y="242.50" width="2" height="27.00"/>
<rect x="369.94000000000005" y="268.50" width="2" height="27.00"/>
<rect x="369.94000000000005" y="294.50" width="2" height="14.50"/>
<rect x="528.45" y="21.00" width="2" height="14.50"/>
<rect x="528.45" y="34.50" width="2" height="27.00"/>
<rect x="528.45" y="60.50" width="2" height="27.00"/>
<rect x="528.45" y="86.50" width="2" height="27.00"/>
<rect x="528.45" y="112.50" width="2" height="27.00"/>
<rect x="528.45" y="138.50" width="2" height="27.00"/>
<rect x="528.45" y="164.50" width="2" height="27.00"/>
<rect x="528.45" y="190.50" width="2" height="27.00"/>
<rect x="528.45" y="216.50" width="2" height="27.00"/>
<rect x="528.45" y="242.50" width="2" height="27.00"/>
<rect x="528.45" y="268.50" width="2" height="27.00"/>
<rect x="528.45" y="294.50" width="2" height="14.50"/>
<rect x="384.35" y="72.70" width="8.40" height="2.2"/>
<rect x="392.36" y="72.70" width="14.81" height="2.2"/>
<rect x="406.76" y="72.70" width="14.81" height="2.2"/>
<rect x="421.18" y="72.70" width="14.81" height="2.2"/>
<rect x="435.58" y="72.70" width="14.81" height="2.2"/>
<rect x="450.00" y="72.70" width="14.81" height="2.2"/>
<rect x="464.40" y="72.70" width="14.81" height="2.2"/>
<rect x="478.81" y="72.70" width="14.81" height="2.2"/>
<rect x="493.23" y="72.70" width="14.81" height="2.2"/>
<rect x="507.63" y="72.70" width="8.40" height="2.2"/>
<rect x="384.35" y="124.70" width="8.40" height="2.2"/>
<rect x="392.36" y="124.70" width="14.81" height="2.2"/>
<rect x="406.76" y="124.70" width="14.81" height="2.2"/>
<rect x="421.18" y="124.70" width="14.81" height="2.2"/>
<rect x="435.58" y="124.70" width="14.81" height="2.2"/>
<rect x="450.00" y="124.70" width="14.81" height="2.2"/>
<rect x="464.40" y="124.70" width="14.81" height="2.2"/>
<rect x="478.81" y="124.70" width="14.81" height="2.2"/>
<rect x="493.23" y="124.70" width="14.81" height="2.2"/>
<rect x="507.63" y="124.70" width="8.40" height="2.2"/>
<rect x="384.35" y="73.00" width="2" height="14.50"/>
<rect x="384.35" y="86.50" width="2" height="27.00"/>
<rect x="384.35" y="112.50" width="2" height="14.50"/>
<rect x="514.04" y="73.00" width="2" height="14.50"/>
<rect x="514.04" y="86.50" width="2" height="27.00"/>
<rect x="514.04" y="112.50" width="2" height="14.50"/>
<rect x="384.35" y="150.70" width="8.40" height="2.2"/>
<rect x="392.36" y="150.70" width="14.81" height="2.2"/>
<rect x="406.76" y="150.70" width="14.81" height="2.2"/>
<rect x="421.18" y="150.70" width="14.81" height="2.2"/>
<rect x="435.58" y="150.70" width="14.81" height="2.2"/>
<rect x="450.00" y="150.70" width="14.81" height="2.2"/>
<rect x="464.40" y="150.70" width="14.81" height="2.2"/>
<rect x="478.81" y="150.70" width="14.81" height="2.2"/>
<rect x="493.23" y="150.70" width="14.81" height="2.2"/>
<rect x="507.63" y="150.70" width="8.40" height="2.2"/>
<rect x="384.35" y="202.70" width="8.40" height="2.2"/>
<rect x="392.36" y="202.70" width="14.81" height="2.2"/>
<rect x="406.76" y="202.70" width="14.81" height="2.2"/>
<rect x="421.18" y="202.70" width="14.81" height="2.2"/>
<rect x="435.58" y="202.70" width="14.81" height="2.2"/>
<rect x="450.00" y="202.70" width="14.81" height="2.2"/>
<rect x="464.40" y="202.70" width="14.81" height="2.2"/>
<rect x="478.81" y="202.70" width="14.81" height="2.2"/>
<rect x="493.23" y="202.70" width="14.81" height="2.2"/>
<rect x="507.63" y="202.70" width="8.40" height="2.2"/>
<rect x="384.35" y="151.00" width="2" height="14.50"/>
<rect x="384.35" y="164.50" width="2" height="27.00"/>
<rect x="384.35" y="190.50" width="2" height="14.50"/>
<rect x="514.04" y="151.00" width="2" height="14.50"/>
<rect x="514.04" y="164.50" width="2" height="27.00"/>
<rect x="514.04" y="190.50" width="2" height="14.50"/>
<rect x="384.35" y="228.70" width="8.40" height="2.2"/>
<rect x="392.36" y="228.70" width="14.81" height="2.2"/>
<rect x="406.76" y="228.70" width="14.81" height="2.2"/>
<rect x="421.18" y="228.70" width="14.81" height="2.2"/>
<rect x="435.58" y="228.70" width="14.81" height="2.2"/>
<rect x="450.00" y="228.70" width="14.81" height="2.2"/>
<rect x="464.40" y="228.70" width="14.81" height="2.2"/>
<rect x="478.81" y="228.70" width="14.81" height="2.2"/>
<rect x="493.23" y="228.70" width="14.81" height="2.2"/>
<rect x="507.63" y="228.70" width="8.40" height="2.2"/>
<rect x="384.35" y="280.70" width="8.40" height="2.2"/>
<rect x="392.36" y="280.70" width="14.81" height="2.2"/>
<rect x="406.76" y="280.70" width="14.81" height="2.2"/>
<rect x="421.18" y="280.70" width="14.81" height="2.2"/>
<rect x="435.58" y="280.70" width="14.81" height="2.2"/>
<rect x="450.00" y="280.70" width="14.81" height="2.2"/>
<rect x="464.40" y="280.70" width="14.81" height="2.2"/>
<rect x="478.81" y="280.70" width="14.81" height="2.2"/>
<rect x="493.23" y="280.70" width="14.81" height="2.2"/>
<rect x="507.63" y="280.70" width="8.40" height="2.2"/>
<rect x="384.35" y="229.00" width="2" height="14.50"/>
<rect x="384.35" y="242.50" width="2" height="27.00"/>
<rect x="384.35" y="268.50" width="2" height="14.50"/>
<rect x="514.04" y="229.00" width="2" height="14.50"/>
<rect x="514.04" y="242.50" width="2" height="27.00"/>
<rect x="514.04" y="268.50" width="2" height="14.50"/>
<rect x="542.86" y="98.70" width="8.40" height="2.2"/>
<rect x="550.86" y="98.70" width="14.81" height="2.2"/>
<rect x="565.27" y="98.70" width="14.81" height="2.2"/>
<rect x="579.68" y="98.70" width="14.81" height="2.2"/>
<rect x="594.09" y="98.70" width="14.81" height="2.2"/>
<rect x="608.50" y="98.70" width="14.81" height="2.2"/>
<rect x="622.91" y="98.70" width="14.81" height="2.2"/>
<rect x="637.32" y="98.70" width="14.81" height="2.2"/>
<rect x="651.73" y="98.70" width="14.81" height="2.2"/>
<rect x="666.14" y="98.70" width="14.81" height="2.2"/>
<rect x="680.55" y="98.70" width="14.81" height="2.2"/>
<rect x="694.96" y="98.70" width="8.41" height="2.2"/>
<rect x="542.86" y="306.70" width="8.40" height="2.2"/>
<rect x="550.86" y="306.70" width="14.81" height="2.2"/>
<rect x="565.27" y="306.70" width="14.81" height="2.2"/>
<rect x="579.68" y="306.70" width="14.81" height="2.2"/>
<rect x="594.09" y="306.70" width="14.81" height="2.2"/>
<rect x="608.50" y="306.70" width="14.81" height="2.2"/>
<rect x="622.91" y="306.70" width="14.81" height="2.2"/>
<rect x="637.32" y="306.70" width="14.81" height="2.2"/>
<rect x="651.73" y="306.70" width="14.81" height="2.2"/>
<rect x="666.14" y="306.70" width="14.81" height="2.2"/>
<rect x="680.55" y="306.70" width="14.81" height="2.2"/>
<rect x="694.96" y="306.70" width="8.41" height="2.2"/>
<rect x="542.86" y="99.00" width="2" height="14.50"/>
<rect x="542.86" y="112.50" width="2" height="27.00"/>
<rect x="542.86" y="138.50" width="2" height="27.00"/>
<rect x="542.86" y="164.50" width="2" height="27.00"/>
<rect x="542.86" y="190.50" width="2" height="27.00"/>
<rect x="542.86" y="216.50" width="2" height="27.00"/>
<rect x="542.86" y="242.50" width="2" height="27.00"/>
<rect x="542.86" y="268.50" width="2" height="27.00"/>
<rect x="542.86" y="294.50" width="2" height="14.50"/>
<rect x="701.37" y="99.00" width="2" height="14.50"/>
<rect x="701.37" y="112.50" width="2" height="27.00"/>
<rect x="701.37" y="138.50" width="2" height="27.00"/>
<rect x="701.37" y="164.50" width="2" height="27.00"/>
<rect x="701.37" y="190.50" width="2" height="27.00"/>
<rect x="701.37" y="216.50" width="2" height="27.00"/>
<rect x="701.37" y="242.50" width="2" height="27.00"/>
<rect x="701.37" y="268.50" width="2" height="27.00"/>
<rect x="701.37" y="294.50" width="2" height="14.50"/>
<rect x="557.27" y="150.70" width="8.41" height="2.2"/>
<rect x="565.27" y="150.70" width="14.81" height="2.2"/>
<rect x="579.68" y="150.70" width="14.81" height="2.2"/>
<rect x="594.09" y="150.70" width="14.81" height="2.2"/>
<rect x="608.50" y="150.70" width="14.81" height="2.2"/>
<rect x="622.91" y="150.70" width="14.81" height="2.2"/>
<rect x="637.32" y="150.70" width="14.81" height="2.2"/>
<rect x="651.73" y="150.70" width="14.81" height="2.2"/>
<rect x="666.14" y="150.70" width="14.81" height="2.2"/>
<rect x="680.55" y="150.70" width="8.41" height="2.2"/>
<rect x="557.27" y="202.70" width="8.41" height="2.2"/>
<rect x="565.27" y="202.70" width="14.81" height="2.2"/>
<rect x="579.68" y="202.70" width="14.81" height="2.2"/>
<rect x="594.09" y="202.70" width="14.81" height="2.2"/>
<rect x="608.50" y="202.70" width="14.81" height="2.2"/>
<rect x="622.91" y="202.70" width="14.81" height="2.2"/>
<rect x="637.32" y="202.70" width="14.81" height="2.2"/>
<rect x="651.73" y="202.70" width="14.81" height="2.2"/>
<rect x="666.14" y="202.70" width="14.81" height="2.2"/>
<rect x="680.55" y="202.70" width="8.41" height="2.2"/>
<rect x="557.27" y="151.00" width="2" height="14.50"/>
<rect x="557.27" y="164.50" width="2" height="27.00"/>
<rect x="557.27" y="190.50" width="2" height="14.50"/>
<rect x="686.96" y="151.00" width="2" height="14.50"/>
<rect x="686.96" y="164.50" width="2" height="27.00"/>
<rect x="686.96" y="190.50" width="2" height="14.50"/>
<rect x="557.27" y="228.70" width="8.41" height="2.2"/>
<rect x="565.27" y="228.70" width="14.81" height="2.2"/>
<rect x="579.68" y="228.70" width="14.81" height="2.2"/>
<rect x="594.09" y="228.70" width="14.81" height="2.2"/>
<rect x="608.50" y="228.70" width="14.81" height="2.2"/>
<rect x="622.91" y="228.70" width="14.81" height="2.2"/>
<rect x="637.32" y="228.70" width="14.81" height="2.2"/>
<rect x="651.73" y="228.70" width="14.81" height="2.2"/>
<rect x="666.14" y="228.70" width="14.81" height="2.2"/>
<rect x="680.55" y="228.70" width="8.41" height="2.2"/>
<rect x="557.27" y="280.70" width="8.41" height="2.2"/>
<rect x="565.27" y="280.70" width="14.81" height="2.2"/>
<rect x="579.68" y="280.70" width="14.81" height="2.2"/>
<rect x="594.09" y="280.70" width="14.81" height="2.2"/>
<rect x="608.50" y="280.70" width="14.81" height="2.2"/>
<rect x="622.91" y="280.70" width="14.81" height="2.2"/>
<rect x="637.32" y="280.70" width="14.81" height="2.2"/>
<rect x="651.73" y="280.70" width="14.81" height="2.2"/>
<rect x="666.14" y="280.70" width="14.81" height="2.2"/>
<rect x="680.55" y="280.70" width="8.41" height="2.2"/>
<rect x="557.27" y="229.00" width="2" height="14.50"/>
<rect x="557.27" y="242.50" width="2" height="27.00"/>
<rect x="557.27" y="268.50" width="2" height="14.50"/>
<rect x="686.96" y="229.00" width="2" height="14.50"/>
<rect x="686.96" y="242.50" width="2" height="27.00"/>
<rect x="686.96" y="268.50" width="2" height="14.50"/>
<rect x="24.10" y="332.70" width="8.41" height="2.2"/>
<rect x="32.11" y="332.70" width="14.81" height="2.2"/>
<rect x="46.52" y="332.70" width="14.81" height="2.2"/>
<rect x="60.93" y="332.70" width="14.81" height="2.2"/>
<rect x="75.33" y="332.70" width="14.81" height="2.2"/>
<rect x="89.74" y="332.70" width="14.81" height="2.2"/>
<rect x="104.16" y="332.70" width="14.81" height="2.2"/>
<rect x="118.57" y="332.70" width="14.81" height="2.2"/>
<rect x="132.98" y="332.70" width="14.81" height="2.2"/>
<rect x="147.39" y="332.70" width="14.81" height="2.2"/>
<rect x="161.80" y="332.70" width="14.81" height="2.2"/>
<rect x="176.21" y="332.70" width="14.81" height="2.2"/>
<rect x="190.62" y="332.70" width="14.81" height="2.2"/>
<rect x="205.03" y="332.70" width="14.81" height="2.2"/>
<rect x="219.44" y="332.70" width="14.81" height="2.2"/>
<rect x="233.85" y="332.70" width="14.81" height="2.2"/>
<rect x="248.26" y="332.70" width="14.81" height="2.2"/>
<rect x="262.67" y="332.70" width="14.81" height="2.2"/>
<rect x="277.07" y="332.70" width="14.81" height="2.2"/>
<rect x="291.49" y="332.70" width="14.81" height="2.2"/>
<rect x="305.89" y="332.70" width="14.81" height="2.2"/>
<rect x="320.31" y="332.70" width="14.81" height="2.2"/>
<rect x="334.71" y="332.70" width="14.81" height="2.2"/>
<rect x="349.12" y="332.70" width="14.81" height="2.2"/>
<rect x="363.54" y="332.70" width="14.81" height="2.2"/>
<rect x="377.94" y="332.70" width="14.81" height="2.2"/>
<rect x="392.36" y="332.70" width="14.81" height="2.2"/>
<rect x="406.76" y="332.70" width="14.81" height="2.2"/>
<rect x="421.18" y="332.70" width="14.81" height="2.2"/>
<rect x="435.58" y="332.70" width="14.81" height="2.2"/>
<rect x="450.00" y="332.70" width="14.81" height="2.2"/>
<rect x="464.40" y="332.70" width="14.81" height="2.2"/>
<rect x="478.81" y="332.70" width="14.81" height="2.2"/>
<rect x="493.23" y="332.70" width="14.81" height="2.2"/>
<rect x="507.63" y="332.70" width="14.81" height="2.2"/>
<rect x="522.04" y="332.70" width="14.81" height="2.2"/>
<rect x="536.45" y="332.70" width="14.81" height="2.2"/>
<rect x="550.86" y="332.70" width="14.81" height="2.2"/>
<rect x="565.27" y="332.70" width="14.81" height="2.2"/>
<rect x="579.68" y="332.70" width="14.81" height="2.2"/>
<rect x="594.09" y="332.70" width="14.81" height="2.2"/>
<rect x="608.50" y="332.70" width="14.81" height="2.2"/>
<rect x="622.91" y="332.70" width="14.81" height="2.2"/>
<rect x="637.32" y="332.70" width="14.81" height="2.2"/>
<rect x="651.73" y="332.70" width="14.81" height="2.2"/>
<rect x="666.14" y="332.70" width="14.81" height="2.2"/>
<rect x="680.55" y="332.70" width="14.81" height="2.2"/>
<rect x="694.96" y="332.70" width="8.41" height="2.2"/>
<rect x="24.10" y="384.70" width="8.41" height="2.2"/>
<rect x="32.11" y="384.70" width="14.81" height="2.2"/>
<rect x="46.52" y="384.70" width="14.81" height="2.2"/>
<rect x="60.93" y="384.70" width="14.81" height="2.2"/>
<rect x="75.33" y="384.70" width="14.81" height="2.2"/>
<rect x="89.74" y="384.70" width="14.81" height="2.2"/>
<rect x="104.16" y="384.70" width="14.81" height="2.2"/>
<rect x="118.57" y="384.70" width="14.81" height="2.2"/>
<rect x="132.98" y="384.70" width="14.81" height="2.2"/>
<rect x="147.39" y="384.70" width="14.81" height="2.2"/>
<rect x="161.80" y="384.70" width="14.81" height="2.2"/>
<rect x="176.21" y="384.70" width="14.81" height="2.2"/>
<rect x="190.62" y="384.70" width="14.81" height="2.2"/>
<rect x="205.03" y="384.70" width="14.81" height="2.2"/>
<rect x="219.44" y="384.70" width="14.81" height="2.2"/>
<rect x="233.85" y="384.70" width="14.81" height="2.2"/>
<rect x="248.26" y="384.70" width="14.81" height="2.2"/>
<rect x="262.67" y="384.70" width="14.81" height="2.2"/>
<rect x="277.07" y="384.70" width="14.81" height="2.2"/>
<rect x="291.49" y="384.70" width="14.81" height="2.2"/>
<rect x="305.89" y="384.70" width="14.81" height="2.2"/>
<rect x="320.31" y="384.70" width="14.81" height="2.2"/>
<rect x="334.71" y="384.70" width="14.81" height="2.2"/>
<rect x="349.12" y="384.70" width="14.81" height="2.2"/>
<rect x="363.54" y="384.70" width="14.81" height="2.2"/>
<rect x="377.94" y="384.70" width="14.81" height="2.2"/>
<rect x="392.36" y="384.70" width="14.81" height="2.2"/>
<rect x="406.76" y="384.70" width="14.81" height="2.2"/>
<rect x="421.18" y="384.70" width="14.81" height="2.2"/>
<rect x="435.58" y="384.70" width="14.81" height="2.2"/>
<rect x="450.00" y="384.70" width="14.81" height="2.2"/>
<rect x="464.40" y="384.70" width="14.81" height="2.2"/>
<rect x="478.81" y="384.70" width="14.81" height="2.2"/>
<rect x="493.23" y="384.70" width="14.81" height="2.2"/>
<rect x="507.63" y="384.70" width="14.81" height="2.2"/>
<rect x="522.04" y="384.70" width="14.81" height="2.2"/>
<rect x="536.45" y="384.70" width="14.81" height="2.2"/>
<rect x="550.86" y="384.70" width="14.81" height="2.2"/>
<rect x="565.27" y="384.70" width="14.81" height="2.2"/>
<rect x="579.68" y="384.70" width="14.81" height="2.2"/>
<rect x="594.09" y="384.70" width="14.81" height="2.2"/>
<rect x="608.50" y="384.70" width="14.81" height="2.2"/>
<rect x="622.91" y="384.70" width="14.81" height="2.2"/>
<rect x="637.32" y="384.70" width="14.81" height="2.2"/>
<rect x="651.73" y="384.70" width="14.81" height="2.2"/>
<rect x="666.14" y="384.70" width="14.81" height="2.2"/>
<rect x="680.55" y="384.70" width="14.81" height="2.2"/>
<rect x="694.96" y="384.70" width="8.41" height="2.2"/>
<rect x="24.1" y="333.00" width="2" height="14.50"/>
<rect x="24.1" y="346.50" width="2" height="27.00"/>
<rect x="24.1" y="372.50" width="2" height="14.50"/>
<rect x="701.37" y="333.00" width="2" height="14.50"/>
<rect x="701.37" y="346.50" width="2" height="27.00"/>
<rect x="701.37" y="372.50" width="2" height="14.50"/>
</g>
<g fill="none" stroke="#383838" stroke-width="1.3" stroke-linecap="square" stroke-linejoin="miter">
<use href="#g80" x="39.51" y="209.10"/>
<use href="#g114" x="53.92" y="209.10"/>
<use href="#g111" x="68.33" y="209.10"/>
<use href="#g99" x="82.74" y="209.10"/>
<use href="#g101" x="97.15" y="209.10"/>
<use href="#g115" x="111.56" y="209.10"/>
<use href="#g115" x="125.97" y="209.10"/>
<use href="#g84" x="68.33" y="261.10"/>
<use href="#g104" x="82.74" y="261.10"/>
<use href="#g114" x="97.15" y="261.10"/>
<use href="#g101" x="111.56" y="261.10"/>
<use href="#g97" x="125.97" y="261.10"/>
<use href="#g100" x="140.38" y="261.10"/>
<use href="#g80" x="212.43" y="131.10"/>
<use href="#g114" x="226.84" y="131.10"/>
<use href="#g111" x="241.25" y="131.10"/>
<use href="#g99" x="255.66" y="131.10"/>
<use href="#g101" x="270.07" y="131.10"/>
<use href="#g115" x="284.48" y="131.10"/>
<use href="#g115" x="298.89" y="131.10"/>
<use href="#g84" x="241.25" y="183.10"/>
<use href="#g104" x="255.66" y="183.10"/>
<use href="#g114" x="270.07" y="183.10"/>
<use href="#g101" x="284.48" y="183.10"/>
<use href="#g97" x="298.89" y="183.10"/>
<use href="#g100" x="313.30" y="183.10"/>
<use href="#g84" x="241.25" y="261.10"/>
<use href="#g104" x="255.66" y="261.10"/>
<use href="#g114" x="270.07" y="261.10"/>
<use href="#g101" x="284.48" y="261.10"/>
<use href="#g97" x="298.89" y="261.10"/>
<use href="#g100" x="313.30" y="261.10"/>
<use href="#g80" x="385.35" y="53.10"/>
<use href="#g114" x="399.76" y="53.10"/>
<use href="#g111" x="414.17" y="53.10"/>
<use href="#g99" x="428.58" y="53.10"/>
<use href="#g101" x="442.99" y="53.10"/>
<use href="#g115" x="457.40" y="53.10"/>
<use href="#g115" x="471.81" y="53.10"/>
<use href="#g84" x="414.17" y="105.10"/>
<use href="#g104" x="428.58" y="105.10"/>
<use href="#g114" x="442.99" y="105.10"/>
<use href="#g101" x="457.40" y="105.10"/>
<use href="#g97" x="471.81" y="105.10"/>
<use href="#g100" x="486.22" y="105.10"/>
<use href="#g84" x="414.17" y="183.10"/>
<use href="#g104" x="428.58" y="183.10"/>
<use href="#g114" x="442.99" y="183.10"/>
<use href="#g101" x="457.40" y="183.10"/>
<use href="#g97" x="471.81" y="183.10"/>
<use href="#g100" x="486.22" y="183.10"/>
<use href="#g84" x="414.17" y="261.10"/>
<use href="#g104" x="428.58" y="261.10"/>
<use href="#g114" x="442.99" y="261.10"/>
<use href="#g101" x="457.40" y="261.10"/>
<use href="#g97" x="471.81" y="261.10"/>
<use href="#g100" x="486.22" y="261.10"/>
<use href="#g80" x="558.27" y="131.10"/>
<use href="#g114" x="572.68" y="131.10"/>
<use href="#g111" x="587.09" y="131.10"/>
<use href="#g99" x="601.50" y="131.10"/>
<use href="#g101" x="615.91" y="131.10"/>
<use href="#g115" x="630.32" y="131.10"/>
<use href="#g115" x="644.73" y="131.10"/>
<use href="#g84" x="587.09" y="183.10"/>
<use href="#g104" x="601.50" y="183.10"/>
<use href="#g114" x="615.91" y="183.10"/>
<use href="#g101" x="630.32" y="183.10"/>
<use href="#g97" x="644.73" y="183.10"/>
<use href="#g100" x="659.14" y="183.10"/>
<use href="#g84" x="587.09" y="261.10"/>
<use href="#g104" x="601.50" y="261.10"/>
<use href="#g114" x="615.91" y="261.10"/>
<use href="#g101" x="630.32" y="261.10"/>
<use href="#g97" x="644.73" y="261.10"/>
<use href="#g100" x="659.14" y="261.10"/>
<use href="#g79" x="255.66" y="365.10"/>
<use href="#g112" x="270.07" y="365.10"/>
<use href="#g101" x="284.48" y="365.10"/>
<use href="#g114" x="298.89" y="365.10"/>
<use href="#g97" x="313.30" y="365.10"/>
<use href="#g116" x="327.71" y="365.10"/>
<use href="#g105" x="342.12" y="365.10"/>
<use href="#g110" x="356.53" y="365.10"/>
<use href="#g103" x="370.94" y="365.10"/>
<use href="#g83" x="399.76" y="365.10"/>
<use href="#g121" x="414.17" y="365.10"/>
<use href="#g115" x="428.58" y="365.10"/>
<use href="#g116" x="442.99" y="365.10"/>
<use href="#g101" x="457.40" y="365.10"/>
<use href="#g109" x="471.81" y="365.10"/>
</g>
</svg>
</body></html>
